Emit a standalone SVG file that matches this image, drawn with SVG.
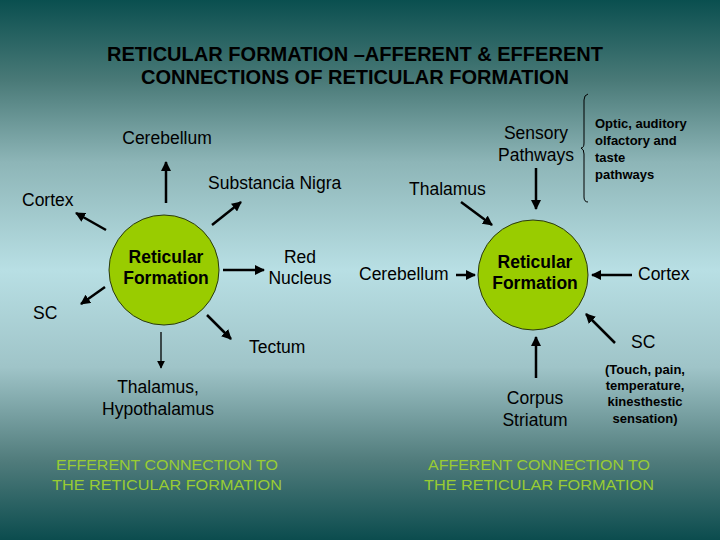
<svg xmlns="http://www.w3.org/2000/svg" width="720" height="540" viewBox="0 0 720 540">
<defs>
<linearGradient id="bg" x1="0" y1="0" x2="0" y2="1">
<stop offset="0" stop-color="#0a4f4f"/>
<stop offset="0.15" stop-color="#4a7a78"/>
<stop offset="0.3" stop-color="#8db5b7"/>
<stop offset="0.5" stop-color="#b8dfe4"/>
<stop offset="0.68" stop-color="#9fc4c8"/>
<stop offset="0.85" stop-color="#527d7d"/>
<stop offset="1" stop-color="#0b4c4e"/>
</linearGradient>
<marker id="ah" viewBox="0 0 10 10" refX="9" refY="5" markerWidth="4" markerHeight="4" markerUnits="strokeWidth" orient="auto">
<path d="M0,0 L10,5 L0,10 z" fill="#000"/>
</marker>
<marker id="ah2" viewBox="0 0 10 10" refX="9" refY="5" markerWidth="7" markerHeight="6" markerUnits="strokeWidth" orient="auto">
<path d="M0,0 L10,5 L0,10 z" fill="#000"/>
</marker>
</defs>
<style>
text{font-family:"Liberation Sans",Arial,sans-serif;fill:#000}
.lb{font-size:17.5px;text-anchor:middle}
.lbl{font-size:17.5px}
.rf{font-size:17.5px;font-weight:bold;text-anchor:middle}
.sm{font-size:13px;font-weight:bold}
.smc{font-size:13px;font-weight:bold;text-anchor:middle}
.gr{font-size:15px;fill:#99cc33;text-anchor:middle}
.ti{font-size:20px;font-weight:bold;text-anchor:middle}
.node circle{fill:#99cc00;stroke:#2a3a10;stroke-width:1}
#connectors line{stroke:#000;stroke-width:2.5;marker-end:url(#ah)}
</style>
<rect x="0" y="0" width="720" height="540" fill="url(#bg)"/>
<g id="title">
<text class="ti" x="355" y="61" textLength="496" lengthAdjust="spacingAndGlyphs">RETICULAR FORMATION –AFFERENT &amp; EFFERENT</text>
<text class="ti" x="355" y="84" textLength="428" lengthAdjust="spacingAndGlyphs">CONNECTIONS OF RETICULAR FORMATION</text>
</g>
<g id="rf-efferent" class="node">
<circle cx="164" cy="270" r="55"/>
<text class="rf" x="166" y="263">Reticular</text>
<text class="rf" x="166" y="284">Formation</text>
</g>
<g id="rf-afferent" class="node">
<circle cx="533" cy="275" r="55"/>
<text class="rf" x="535" y="268">Reticular</text>
<text class="rf" x="535" y="289">Formation</text>
</g>
<g id="e-cerebellum"><text class="lb" x="167" y="144">Cerebellum</text></g>
<g id="e-substancia"><text class="lbl" x="208" y="189">Substancia Nigra</text></g>
<g id="e-cortex"><text class="lbl" x="22" y="206">Cortex</text></g>
<g id="e-rednucleus"><text class="lb" x="300" y="263">Red</text><text class="lb" x="300" y="284">Nucleus</text></g>
<g id="e-sc"><text class="lbl" x="33" y="319">SC</text></g>
<g id="e-tectum"><text class="lbl" x="249" y="353">Tectum</text></g>
<g id="e-thalamus"><text class="lb" x="158" y="393">Thalamus,</text><text class="lb" x="158" y="415">Hypothalamus</text></g>
<g id="e-caption"><text class="gr" x="167" y="470" textLength="222" lengthAdjust="spacingAndGlyphs">EFFERENT CONNECTION TO</text><text class="gr" x="167" y="490" textLength="230" lengthAdjust="spacingAndGlyphs">THE RETICULAR FORMATION</text></g>
<g id="a-sensory"><text class="lb" x="536" y="139">Sensory</text><text class="lb" x="536" y="161">Pathways</text></g>
<g id="a-optic">
<path d="M588,94 Q584,95 584,100 L584,143 Q584,148 581,148 Q584,149 584,154 L584,197 Q584,202 588,202" fill="none" stroke="#000" stroke-width="1"/>
<text class="sm" x="595" y="128">Optic, auditory</text>
<text class="sm" x="595" y="145">olfactory and</text>
<text class="sm" x="595" y="162">taste</text>
<text class="sm" x="595" y="179">pathways</text>
</g>
<g id="a-thalamus"><text class="lbl" x="409" y="195">Thalamus</text></g>
<g id="a-cerebellum"><text class="lbl" x="359" y="280">Cerebellum</text></g>
<g id="a-cortex"><text class="lbl" x="638" y="280">Cortex</text></g>
<g id="a-sc"><text class="lbl" x="631" y="348">SC</text>
<text class="smc" x="645" y="374">(Touch, pain,</text>
<text class="smc" x="645" y="390">temperature,</text>
<text class="smc" x="645" y="406">kinesthestic</text>
<text class="smc" x="645" y="423">sensation)</text>
</g>
<g id="a-corpus"><text class="lb" x="535" y="404">Corpus</text><text class="lb" x="535" y="426">Striatum</text></g>
<g id="a-caption"><text class="gr" x="539" y="470" textLength="222" lengthAdjust="spacingAndGlyphs">AFFERENT CONNECTION TO</text><text class="gr" x="539" y="490" textLength="230" lengthAdjust="spacingAndGlyphs">THE RETICULAR FORMATION</text></g>
<g id="connectors">
<line x1="166" y1="203" x2="166" y2="162"/>
<line x1="212" y1="225" x2="241" y2="202"/>
<line x1="106" y1="230" x2="76" y2="213"/>
<line x1="223" y1="270" x2="264" y2="270"/>
<line x1="105" y1="287" x2="81" y2="304"/>
<line x1="207" y1="315" x2="231" y2="339"/>
<line x1="161" y1="332" x2="161" y2="368" style="stroke-width:1.3;marker-end:url(#ah2)"/>
<line x1="536" y1="168" x2="536" y2="209"/>
<line x1="461" y1="202" x2="492" y2="225"/>
<line x1="456" y1="275" x2="475" y2="275"/>
<line x1="632" y1="275" x2="592" y2="275"/>
<line x1="615" y1="343" x2="586" y2="314"/>
<line x1="536" y1="378" x2="536" y2="337"/>
</g>
</svg>
